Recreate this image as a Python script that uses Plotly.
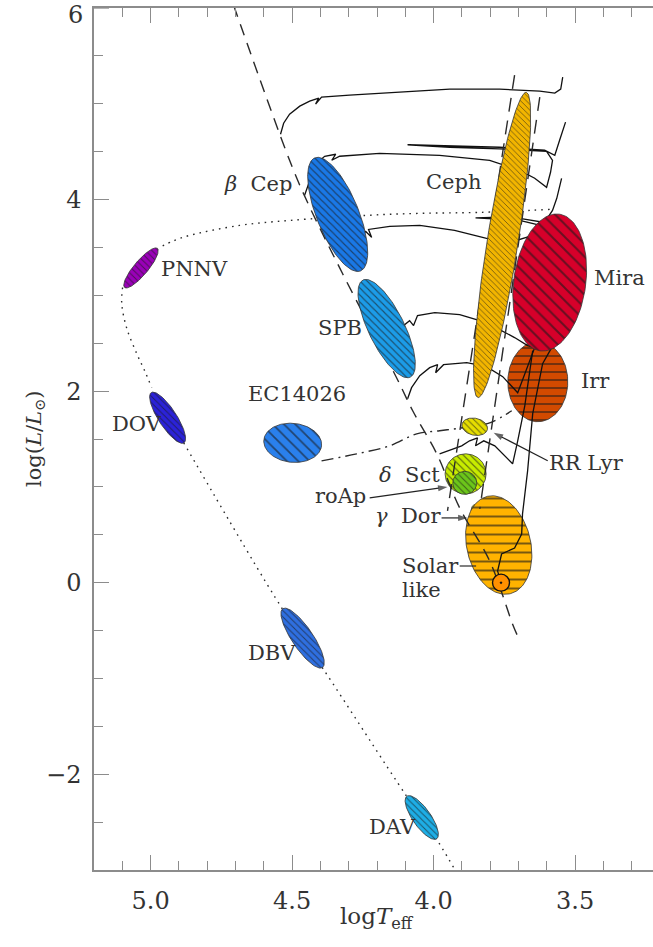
import numpy as np
import plotly.graph_objects as go

# ---------------- figure geometry ----------------
W, H = 653, 947
M_L, M_R, M_T, M_B = 94, 0, 8, 77
X_RANGE = [5.2, 3.225]   # log Teff, hot side on the left
Y_RANGE = [-3.0, 6.0]    # log L/Lsun
PLOT_W = W - M_L - M_R
PLOT_H = H - M_T - M_B
PX_PER_LOGT = PLOT_W / (X_RANGE[0] - X_RANGE[1])
PX_PER_LOGL = PLOT_H / (Y_RANGE[1] - Y_RANGE[0])

FONT = "DejaVu Serif"
INK = "#2a2a2a"
AXIS = "#8c8c8c"

# ---------------- reference lines ----------------
# zero-age main sequence
zams_logt = [4.707, 4.509, 4.449, 4.322, 4.131, 4.074, 3.989, 3.908, 3.802, 3.721, 3.703]
zams_logl = [6.031, 4.410, 3.992, 3.228, 2.140, 1.795, 1.345, 0.780, 0.226, -0.433, -0.559]

# classical instability strip, blue and red edges
strip_blue_logt = [3.714, 3.951]
strip_blue_logl = [5.30, 0.75]
strip_red_logt = [3.625, 3.837]
strip_red_logl = [5.07, 0.77]

# post-AGB path to the planetary-nebula nuclei, then down to the hot pre-white dwarfs
post_agb_logt = [3.590, 3.837, 4.049, 4.237, 4.509, 4.686, 4.862, 4.915, 4.975]
post_agb_logl = [3.897, 3.866, 3.856, 3.835, 3.782, 3.730, 3.626, 3.573, 3.490]
pnn_dov_logt = [5.099, 5.102, 5.085, 5.049, 5.021, 4.996]
pnn_dov_logl = [3.082, 2.914, 2.663, 2.391, 2.213, 2.036]

# white dwarf cooling sequence
wd_logt = [4.883, 4.534, 4.392, 4.095, 3.989, 3.901]
wd_logl = [1.460, -0.276, -0.893, -2.232, -2.682, -3.121]

# horizontal branch / extreme horizontal branch
hb_logt = [4.396, 4.272, 4.155, 4.060, 3.979, 3.898, 3.802, 3.724]
hb_logl = [1.272, 1.345, 1.429, 1.554, 1.586, 1.617, 1.669, 1.795]

# ---------------- evolutionary tracks ----------------
track_logt = [
    [4.541, 4.530, 4.509, 4.473, 4.438, 4.406, 4.417, 4.396, 4.297, 4.120, 3.943, 3.767,
     3.625, 3.572, 3.551, 3.544],
    [4.456, 4.431, 4.410, 4.385, 4.346, 4.360, 4.332, 4.191, 3.979, 3.802, 3.696, 3.643,
     3.601, 3.587, 3.580, 3.601, 3.767, 3.943, 4.092, 3.943, 3.767, 3.608, 3.572, 3.555, 3.534],
    [4.314, 4.269, 4.240, 4.219, 4.230, 4.155, 4.049, 3.926, 3.813, 3.731, 3.661, 3.608,
     3.696, 3.795, 3.852, 3.795, 3.696, 3.608, 3.580, 3.565, 3.548],
    [4.173, 4.120, 4.085, 4.071, 4.057, 3.996, 3.908, 3.837, 3.767, 3.714, 3.668, 3.640],
    [4.092, 4.078, 4.049, 4.014, 3.986, 3.993, 3.965, 3.883, 3.813, 3.756, 3.703, 3.675, 3.643],
    [3.979, 3.901, 3.873, 3.845, 3.852, 3.823, 3.784, 3.749, 3.721, 3.703, 3.678, 3.650],
    [3.762, 3.774, 3.760, 3.714, 3.689, 3.686, 3.668, 3.650, 3.615, 3.583],
]
track_logl = [
    [4.682, 4.797, 4.891, 4.975, 5.027, 5.059, 4.996, 5.069, 5.090, 5.121, 5.153, 5.153,
     5.132, 5.111, 5.153, 5.278],
    [4.044, 4.253, 4.389, 4.452, 4.473, 4.410, 4.452, 4.483, 4.462, 4.410, 4.305, 4.222,
     4.128, 4.285, 4.410, 4.504, 4.530, 4.546, 4.572, 4.561, 4.546, 4.515, 4.462, 4.619, 4.808],
    [3.416, 3.594, 3.667, 3.605, 3.688, 3.720, 3.730, 3.678, 3.594, 3.552, 3.615, 3.720,
     3.782, 3.798, 3.809, 3.814, 3.803, 3.761, 3.887, 4.013, 4.222],
    [2.527, 2.653, 2.736, 2.684, 2.789, 2.820, 2.799, 2.736, 2.642, 2.559, 2.475, 2.454],
    [1.921, 2.036, 2.161, 2.245, 2.276, 2.192, 2.276, 2.297, 2.255, 2.151, 1.983, 2.213, 2.454],
    [1.345, 1.429, 1.481, 1.512, 1.429, 1.481, 1.429, 1.324, 1.241, 1.481, 1.847, 2.423],
    [0.0, 0.121, 0.299, 0.362, 0.508, 0.718, 1.167, 1.764, 2.287, 2.454],
]

# ---------------- pulsator regions ----------------
region_names = ["PNNV", "DOV", "beta Cep", "SPB", "EC14026", "DBV", "DAV", "Ceph",
                "Mira", "Irr", "RR Lyr", "delta Sct", "roAp", "gamma Dor", "Solar-like"]
region_logt = [5.034, 4.940, 4.339, 4.166, 4.498, 4.463, 4.042, 3.758,
               3.590, 3.632, 3.855, 3.887, 3.890, 3.834, 3.770]
region_logl = [3.286, 1.722, 3.845, 2.653, 1.460, -0.579, -2.452, 3.526,
               3.134, 2.098, 1.628, 1.136, 1.042, 0.697, 0.393]

sun_logt = [3.762]
sun_logl = [0.0]

# drawing style of each region: semi-axes (px), tilt (deg), colour, hatch, hatch spacing, layer
region_style = {
    "PNNV":       dict(a=25.5, b=7.0,  tilt=50,  color="#9a00b8", hatch="\\", step=4.5, low=False),
    "DOV":        dict(a=30.0, b=9.0,  tilt=-57, color="#2b22d8", hatch="\\", step=4.5, low=False),
    "beta Cep":   dict(a=61.0, b=21.0, tilt=-68, color="#1a78e6", hatch="\\", step=5,   low=False),
    "SPB":        dict(a=54.0, b=18.0, tilt=-64, color="#1c9ce8", hatch="\\", step=5,   low=False),
    "EC14026":    dict(a=29.0, b=19.5, tilt=-6,  color="#2a80ec", hatch="\\", step=8,   low=False),
    "DBV":        dict(a=35.5, b=10.5, tilt=-56, color="#2f6fe0", hatch="\\", step=4.5, low=False),
    "DAV":        dict(a=26.0, b=9.0,  tilt=-55, color="#1eaee6", hatch="\\", step=4.5, low=False),
    "Ceph":       dict(a=154.5, b=15.5, tilt=81, color="#f2b500", hatch="\\", step=4,   low=False),
    "Mira":       dict(a=69.0, b=36.0, tilt=82,  color="#d6002a", hatch="\\", step=9,   low=False),
    "Irr":        dict(a=40.0, b=30.0, tilt=90,  color="#d24a00", hatch="-",  step=8,   low=True),
    "RR Lyr":     dict(a=13.0, b=8.5,  tilt=-12, color="#e6de00", hatch="\\", step=4.5, low=False),
    "delta Sct":  dict(a=20.5, b=20.0, tilt=0,   color="#c8ec00", hatch="\\", step=5,   low=True),
    "roAp":       dict(a=12.0, b=11.5, tilt=0,   color="#6cc61a", hatch="\\", step=4.5, low=True),
    "gamma Dor":  dict(a=13.0, b=7.5,  tilt=-57, color="#ecec20", hatch="\\", step=4.5, low=True),
    "Solar-like": dict(a=50.0, b=32.0, tilt=103, color="#ffb300", hatch="-",  step=9,   low=True),
}


def ellipse_path(logt0, logl0, a_px, b_px, tilt_deg, n=140):
    """Outline of an ellipse that is round/tilted on screen, returned in data units."""
    t = np.linspace(0, 2 * np.pi, n)
    th = np.radians(tilt_deg)
    u = a_px * np.cos(t) * np.cos(th) - b_px * np.sin(t) * np.sin(th)
    v = a_px * np.cos(t) * np.sin(th) + b_px * np.sin(t) * np.cos(th)
    return logt0 - u / PX_PER_LOGT, logl0 + v / PX_PER_LOGL


def region_trace(i):
    st = region_style[region_names[i]]
    xs, ys = ellipse_path(region_logt[i], region_logl[i], st["a"], st["b"], st["tilt"])
    return go.Scatter(
        x=xs, y=ys, mode="lines", fill="toself", fillcolor=st["color"],
        fillpattern=dict(shape=st["hatch"], size=st["step"], solidity=0.22,
                         fgcolor="#1a1a1a", fgopacity=0.6, bgcolor=st["color"]),
        line=dict(color="#333333", width=0.8),
        hoverinfo="skip", showlegend=False,
    )


def line_trace(xs, ys, dash, width=1.4, color=INK, shape="linear"):
    return go.Scatter(x=xs, y=ys, mode="lines",
                      line=dict(color=color, width=width, dash=dash, shape=shape),
                      hoverinfo="skip", showlegend=False)


fig = go.Figure()

# regions lying underneath the tracks
for i, name in enumerate(region_names):
    if region_style[name]["low"]:
        fig.add_trace(region_trace(i))

# tracks and boundaries
for tx, ty in zip(track_logt, track_logl):
    fig.add_trace(line_trace(tx, ty, "solid", width=1.3, color="#111111"))
fig.add_trace(line_trace(zams_logt, zams_logl, "12px,8px", shape="spline"))
fig.add_trace(line_trace(strip_blue_logt, strip_blue_logl, "14px,9px"))
fig.add_trace(line_trace(strip_red_logt, strip_red_logl, "14px,9px"))
fig.add_trace(line_trace(post_agb_logt, post_agb_logl, "1.6px,5px", shape="spline"))
fig.add_trace(line_trace(pnn_dov_logt, pnn_dov_logl, "1.6px,5px", shape="spline"))
fig.add_trace(line_trace(wd_logt, wd_logl, "1.6px,5px", shape="spline"))
fig.add_trace(line_trace(hb_logt, hb_logl, "12px,5px,2px,5px", shape="spline"))

# regions drawn over the tracks
for i, name in enumerate(region_names):
    if not region_style[name]["low"]:
        fig.add_trace(region_trace(i))

# the Sun
fig.add_trace(go.Scatter(x=sun_logt, y=sun_logl, mode="markers",
                         marker=dict(symbol="circle-dot", size=17, color="#ff9000",
                                     line=dict(color="#111111", width=1.4)),
                         hoverinfo="skip", showlegend=False))

# small connector from the "Solar" label to its region
fig.add_trace(line_trace([3.908, 3.850], [0.174, 0.174], "solid", width=1.2))

# pointer arrows from labels: (tail logT, tail logL, head logT, head logL)
arrows = [
    (4.226, 0.885, 3.951, 1.000),   # roAp
    (3.972, 0.676, 3.880, 0.676),   # gamma Dor
    (3.597, 1.272, 3.788, 1.565),   # RR Lyr
]
for tx, ty, hx, hy in arrows:
    fig.add_trace(go.Scatter(
        x=[tx, hx], y=[ty, hy], mode="lines+markers",
        line=dict(color="#222222", width=1.2),
        marker=dict(symbol=["circle", "arrow"], size=[0, 10], angleref="previous",
                    color="#222222", line=dict(width=0)),
        hoverinfo="skip", showlegend=False))

# ---------------- labels ----------------
labels = [
    ("PNNV", 4.845, 3.280, "center"),
    ("DOV", 5.049, 1.659, "center"),
    ("<i>β</i>  Cep", 4.622, 4.159, "center"),
    ("SPB", 4.332, 2.663, "center"),
    ("EC14026", 4.484, 1.973, "center"),
    ("DBV", 4.572, -0.736, "center"),
    ("DAV", 4.145, -2.546, "center"),
    ("Ceph", 3.929, 4.180, "center"),
    ("Mira", 3.343, 3.186, "center"),
    ("Irr", 3.428, 2.109, "center"),
    ("RR Lyr", 3.459, 1.251, "center"),
    ("<i>δ</i>  Sct", 4.085, 1.126, "center"),
    ("roAp", 4.329, 0.906, "center"),
    ("<i>γ</i>  Dor", 4.092, 0.697, "center"),
    ("Solar", 4.120, 0.174, "left"),
    ("like", 4.120, -0.077, "left"),
]
annotations = []
for text, lx, ly, anchor in labels:
    annotations.append(dict(x=lx, y=ly, xref="x", yref="y", text=text, showarrow=False,
                            xanchor=anchor, yanchor="middle",
                            font=dict(family=FONT, size=21, color="#333333")))

# axis titles and the top y tick label
annotations.append(dict(x=4.2, y=-(918 - (H - M_B)) / PLOT_H, xref="x", yref="paper",
                        text="log<i>T</i><sub>eff</sub>", showarrow=False,
                        xanchor="center", yanchor="middle",
                        font=dict(family=FONT, size=23, color="#333333")))
annotations.append(dict(x=-(M_L - 35) / PLOT_W, y=1.5, xref="paper", yref="y",
                        text="log(<i>L</i>/<i>L</i><sub>⊙</sub>)", showarrow=False,
                        textangle=-90, xanchor="center", yanchor="middle",
                        font=dict(family=FONT, size=21, color="#333333")))
annotations.append(dict(x=-9 / PLOT_W, y=6, xref="paper", yref="y", text="6",
                        showarrow=False, xanchor="right", yanchor="middle", yshift=-7,
                        font=dict(family=FONT, size=24, color="#333333")))

fig.update_layout(
    width=W, height=H,
    margin=dict(l=M_L, r=M_R, t=M_T, b=M_B),
    paper_bgcolor="white", plot_bgcolor="white",
    showlegend=False,
    annotations=annotations,
    xaxis=dict(range=X_RANGE, showgrid=False, zeroline=False,
               showline=True, linecolor=AXIS, linewidth=1.5, mirror="ticks",
               ticks="inside", ticklen=15, tickwidth=1.3, tickcolor=AXIS,
               tick0=5.0, dtick=0.5, tickformat=".1f", ticklabelstandoff=8,
               tickfont=dict(family=FONT, size=24, color="#333333"),
               minor=dict(ticks="inside", ticklen=9, tickwidth=1.1, tickcolor=AXIS,
                          tick0=5.0, dtick=0.1, showgrid=False)),
    yaxis=dict(range=Y_RANGE, showgrid=False, zeroline=False,
               showline=True, linecolor=AXIS, linewidth=1.5,
               ticks="inside", ticklen=15, tickwidth=1.3, tickcolor=AXIS,
               tickvals=[-2, 0, 2, 4], ticktext=["−2", "0", "2", "4"],
               ticklabelstandoff=6,
               tickfont=dict(family=FONT, size=24, color="#333333"),
               minor=dict(ticks="inside", ticklen=9, tickwidth=1.1, tickcolor=AXIS,
                          tickvals=[-2.5, -1.5, -1, -0.5, 0.5, 1, 1.5, 2.5, 3, 3.5,
                                    4.5, 5, 5.5], showgrid=False)),
)
# major tick at the very top of the luminosity axis (its label is the annotation above)
fig.add_shape(type="line", xref="paper", yref="y", x0=0, x1=15 / PLOT_W, y0=6, y1=6,
              line=dict(color=AXIS, width=1.3))

fig.write_html("out.html")
